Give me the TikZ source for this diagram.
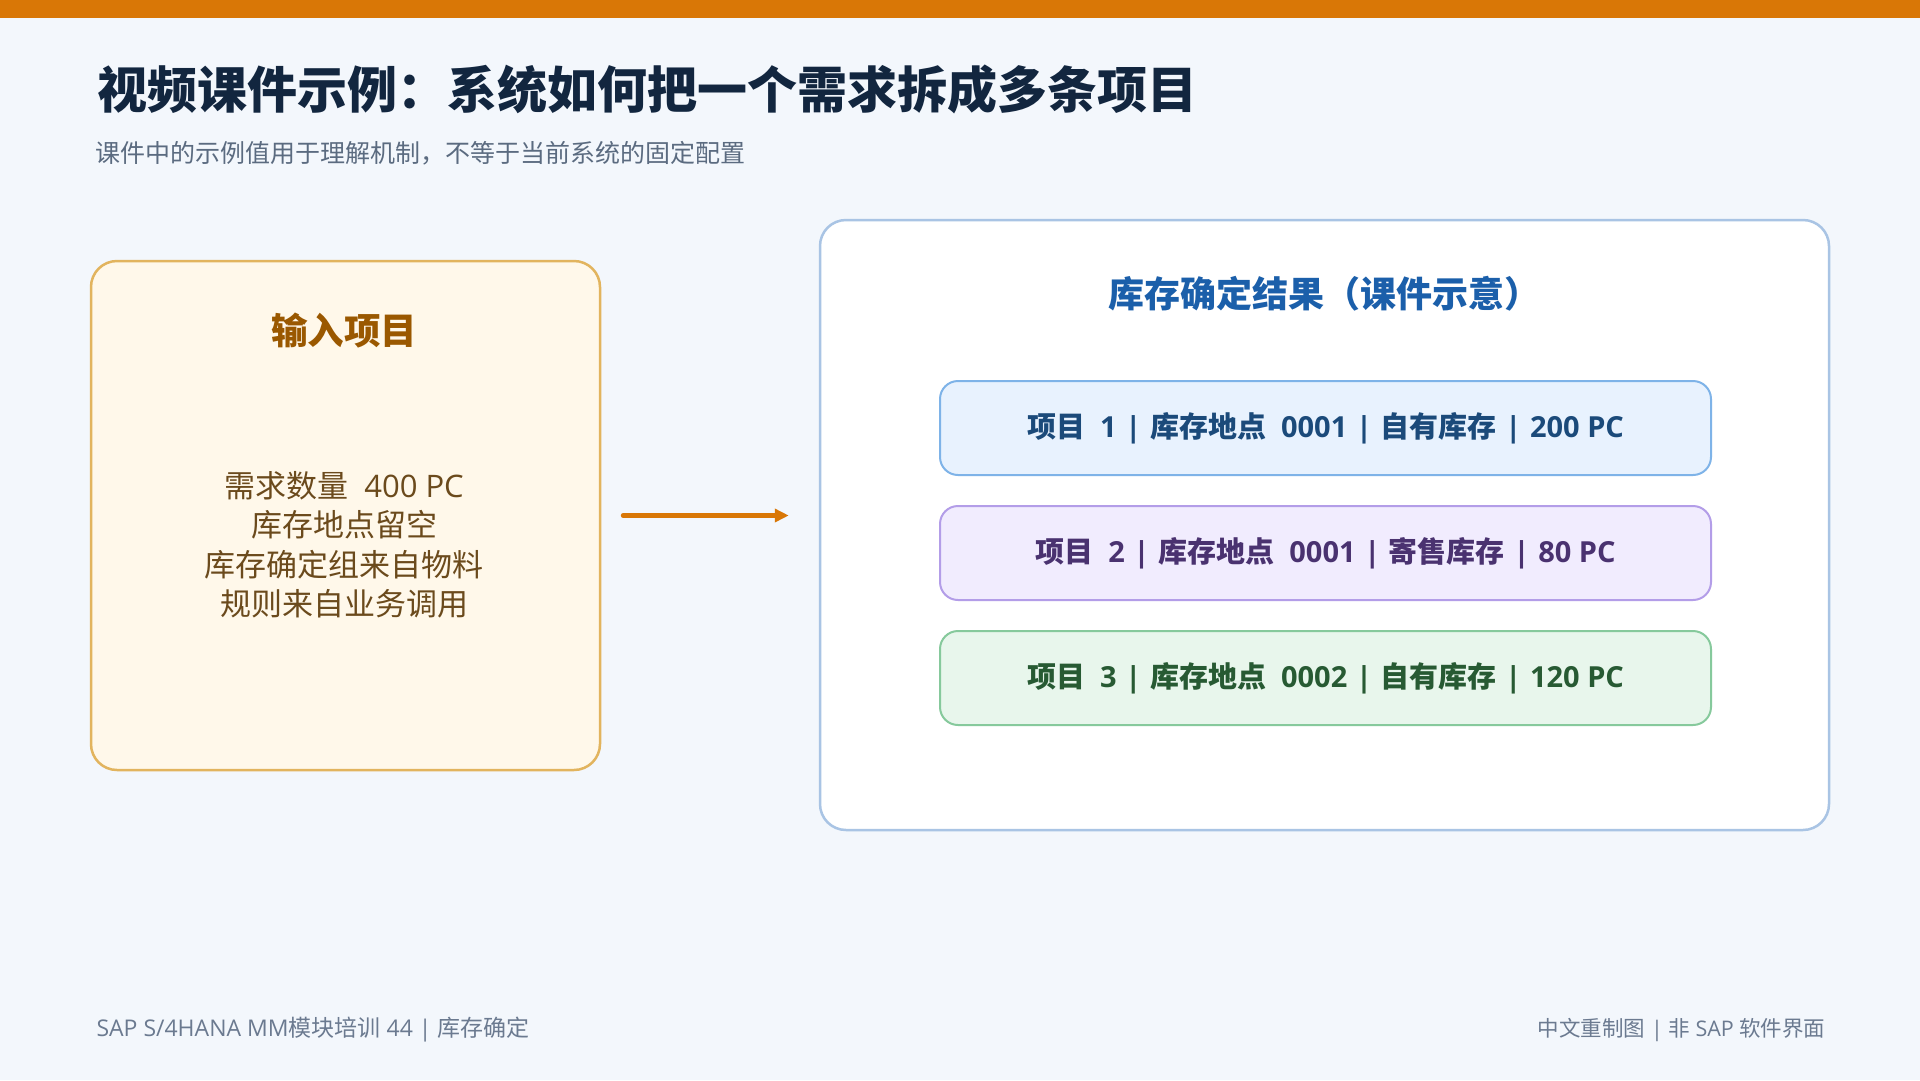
\documentclass[tikz,border=0pt]{standalone}
\usepackage{fontspec}
\setmainfont{Noto Sans CJK SC}
\newfontfamily\latinfont{Open Sans}
\usetikzlibrary{positioning,arrows.meta}
\definecolor{pagebg}{HTML}{F3F7FC}
\definecolor{topbar}{HTML}{D97706}
\definecolor{titleink}{HTML}{12263F}
\definecolor{subink}{HTML}{5B6B80}
\definecolor{inputfill}{HTML}{FFF8EA}
\definecolor{inputline}{HTML}{E2B45E}
\definecolor{inputhead}{HTML}{9A5800}
\definecolor{inputink}{HTML}{6B4A1C}
\definecolor{resultline}{HTML}{A9C4E4}
\definecolor{resulthead}{HTML}{1B5FAA}
\definecolor{bluefill}{HTML}{E8F2FE}
\definecolor{blueline}{HTML}{7EB3E8}
\definecolor{blueink}{HTML}{1B4A7A}
\definecolor{violetfill}{HTML}{F1ECFE}
\definecolor{violetline}{HTML}{B39DE8}
\definecolor{violetink}{HTML}{4A3270}
\definecolor{greenfill}{HTML}{E8F6EC}
\definecolor{greenline}{HTML}{86C99C}
\definecolor{greenink}{HTML}{275A33}
\definecolor{footink}{HTML}{6B7A90}
\newcommand{\theslide}{
    \fill[pagebg] (0,0) rectangle (1920,1080);
    \fill[topbar] (0,0) rectangle (1920,18);
}
\newcommand{\latseg}[1]{{\latinfont #1}}
\newcommand{\pipesep}{\hspace{0.3em}|\hspace{0.3em}}
\tikzset{x=1pt, y=-1pt,
    panel/.style={draw, line width=2.5pt, rounded corners=26pt},
    itembox/.style={draw, line width=2pt, rounded corners=18pt,
        minimum width=771pt, minimum height=94pt,
        font=\fontsize{29}{34}\selectfont\bfseries},
    footnote/.style={font=\fontsize{21.5}{25}\selectfont, text=footink}}

\begin{document}
\begin{tikzpicture}
                \useasboundingbox (0,0) rectangle (1920,1080);
                \theslide
                \node[anchor=west, text=titleink, font=\fontsize{50}{58}\selectfont\bfseries]
                    (title) at (94,89) {视频课件示例：系统如何把一个需求拆成多条项目};
                \node[anchor=west, text=subink, font=\fontsize{25}{30}\selectfont]
                    (subtitle) at (92,153) {课件中的示例值用于理解机制，不等于当前系统的固定配置};
                % input side
                \node[panel, fill=inputfill, draw=inputline, minimum width=509pt, minimum height=509pt]
                    (input) at (345.5,515.5) {};
                \node[text=inputhead, font=\fontsize{36.5}{40}\selectfont\bfseries]
                    (inhead) at (344,331) {输入项目};
                \node[text=inputink, align=center, font=\fontsize{31}{39.5}\selectfont]
                    (inbody) at (344,545) {需求数量\latseg{~~400 PC}\\库存地点留空\\库存确定组来自物料\\规则来自业务调用};
                % result side
                \node[panel, fill=white, draw=resultline, minimum width=1009pt, minimum height=610pt]
                    (result) at (1324.5,525) {};
                \node[text=resulthead, font=\fontsize{36}{40}\selectfont\bfseries]
                    (reshead) at (1324,294) {库存确定结果（课件示意）};
                \node[itembox, fill=bluefill, draw=blueline, text=blueink]
                    (item1) at (1325.5,428) {项目\latseg{~~1\pipesep}库存地点\latseg{~~0001\pipesep}自有库存\latseg{\pipesep 200 PC}};
                \node[itembox, fill=violetfill, draw=violetline, text=violetink, below=29pt of item1]
                    (item2) {项目\latseg{~~2\pipesep}库存地点\latseg{~~0001\pipesep}寄售库存\latseg{\pipesep 80 PC}};
                \node[itembox, fill=greenfill, draw=greenline, text=greenink, below=29pt of item2]
                    (item3) {项目\latseg{~~3\pipesep}库存地点\latseg{~~0002\pipesep}自有库存\latseg{\pipesep 120 PC}};
                \draw[topbar, line width=5pt, line cap=round, -{Triangle[length=14pt, width=13pt]}]
                    ([xshift=22pt]input.east) -- ([xshift=-30pt]result.west |- input.east);
                % footer
                \node[footnote, anchor=west, font=\fontsize{23}{26}\selectfont] (footl) at (93,1030) {\latseg{SAP S/4HANA MM}模块培训\latseg{ 44 | }库存确定};
                \node[footnote, anchor=east] (footr) at (1829,1030) {中文重制图\latseg{ | }非\latseg{ SAP }软件界面};
            \end{tikzpicture}
\end{document}
